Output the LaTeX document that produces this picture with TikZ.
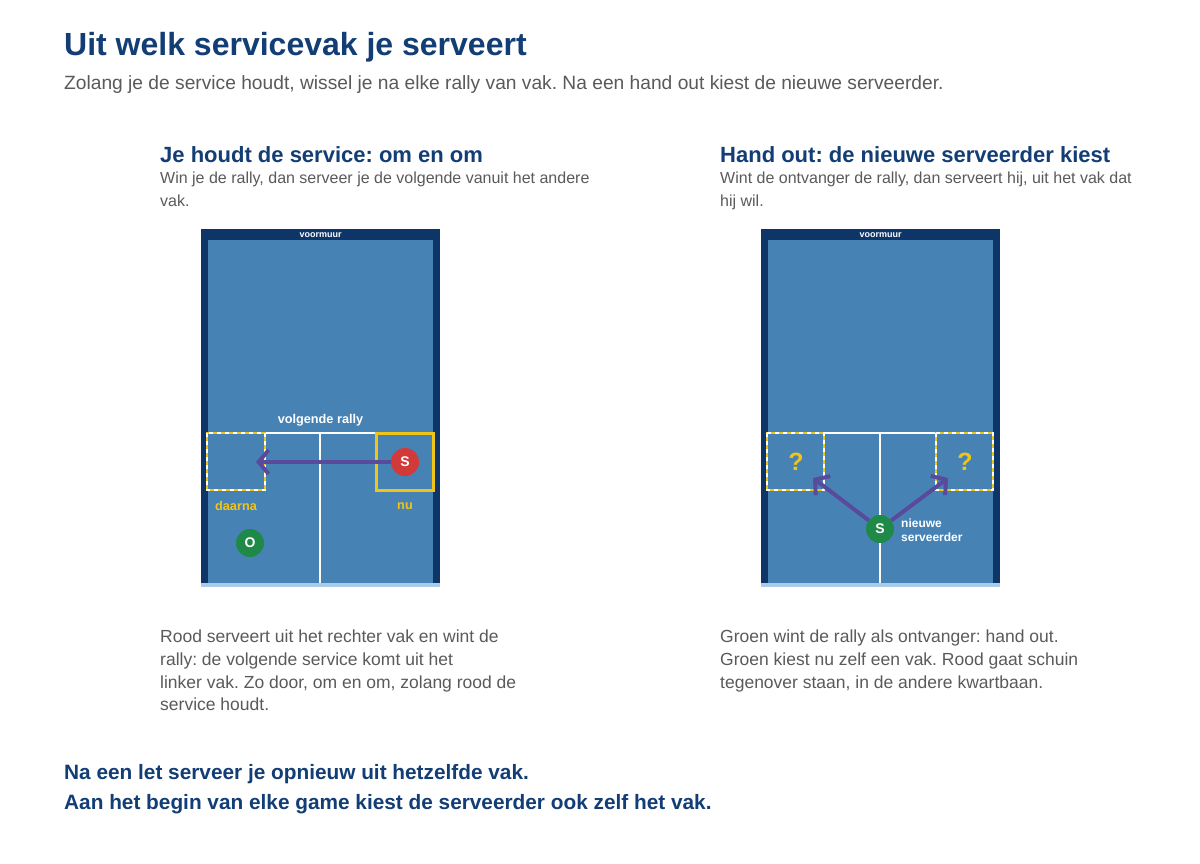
\documentclass[tikz,border=0pt]{standalone}
\usepackage{fontspec}
\setmainfont{Liberation Sans}
\usetikzlibrary{arrows.meta}
\definecolor{navy}{HTML}{0D3567}
\definecolor{court}{HTML}{4682B4}
\definecolor{stripe}{HTML}{A9CCE8}
\definecolor{headblue}{HTML}{123D75}
\definecolor{greytext}{HTML}{5A5A5A}
\definecolor{gold}{HTML}{F0C419}
\definecolor{arrowpurple}{HTML}{5A4A9C}
\definecolor{redball}{HTML}{D23A3A}
\definecolor{greenball}{HTML}{1F8A47}
\tikzset{
  heading/.style={anchor=base west, text=headblue, font=\fontsize{22}{26}\selectfont\bfseries, inner sep=0},
  body/.style={anchor=north west, text=greytext, font=\fontsize{16}{22.7}\selectfont, align=left, inner sep=0},
  ball/.style={circle, minimum size=28pt, inner sep=0, text=white, font=\fontsize{14}{14}\selectfont\bfseries},
  courtlabel/.style={font=\fontsize{12.7}{14}\selectfont\bfseries, inner sep=0},
  move/.style={arrowpurple, line width=4pt, -{Straight Barb[length=10pt,width=24pt]}},
  dashbox/.style={line width=2.5pt, gold, postaction={draw=white, line width=2.5pt, dash pattern=on 4pt off 4pt}}
}
\newcommand{\drawcourt}[1]{%
  \begin{scope}[xshift=#1]
    \fill[navy] (201,229) rectangle (440,583);
    \fill[court] (208,240) rectangle (433,583);
    \fill[stripe] (201,583) rectangle (440,587);
    \node[text=white, font=\fontsize{9}{9}\selectfont\bfseries, inner sep=0] at (320.5,235) {voormuur};
    \draw[white, line width=2pt] (208,433) -- (433,433);
    \draw[white, line width=2pt] (320,433) -- (320,583);
  \end{scope}}
\begin{document}
\frenchspacing
\begin{tikzpicture}[x=1pt,y=-1pt]
  \useasboundingbox[fill=white] (0,0) rectangle (1200,864);

  \node[anchor=base west, text=headblue, font=\fontsize{32}{36}\selectfont\bfseries, inner sep=0] (title) at (64,56) {Uit welk servicevak je serveert};
  \node[anchor=base west, text=greytext, font=\fontsize{19.2}{22}\selectfont, inner sep=0] (subtitle) at (64,90) {Zolang je de service houdt, wissel je na elke rally van vak. Na een hand out kiest de nieuwe serveerder.};

  % linker paneel
  \node[heading] (headL) at (160,163) {Je houdt de service: om en om};
  \node[body] (introL) at (160,172) {Win je de rally, dan serveer je de volgende vanuit het andere\\vak.};
  \drawcourt{0}
  \draw[dashbox] (207,433) rectangle (265,490);
  \draw[gold, line width=3pt] (376,433) rectangle (433,490);
  \node[courtlabel, text=white] (next) at (320.5,420) {volgende rally};
  \node[ball, fill=redball] (server) at (405,462) {S};
  \coordinate (target) at (256,462);
  \draw[move] (server) -- (target);
  \node[courtlabel, text=gold] (after) at (236,506) {daarna};
  \node[courtlabel, text=gold] (now) at (405,506) {nu};
  \node[ball, fill=greenball] (receiver) at (250,543) {O};
  \node[body, font=\fontsize{17.5}{22.7}\selectfont] (textL) at (160,630) {Rood serveert uit het rechter vak en wint de\\rally: de volgende service komt uit het\\linker vak. Zo door, om en om, zolang rood de\\service houdt.};

  % rechter paneel
  \node[heading] (headR) at (720,163) {Hand out: de nieuwe serveerder kiest};
  \node[body] (introR) at (720,172) {Wint de ontvanger de rally, dan serveert hij, uit het vak dat\\hij wil.};
  \drawcourt{560}
  \draw[dashbox] (767,433) rectangle (824,490);
  \draw[dashbox] (936,433) rectangle (993,490);
  \node[text=gold, font=\fontsize{25}{25}\selectfont\bfseries] (askL) at (796,462) {?};
  \node[text=gold, font=\fontsize{25}{25}\selectfont\bfseries] (askR) at (965,462) {?};
  \node[ball, fill=greenball] (newserver) at (880,529) {S};
  \coordinate (boxL) at (813,478);
  \coordinate (boxR) at (948,478);
  \draw[move] (newserver) -- (boxL);
  \draw[move] (newserver) -- (boxR);
  \node[courtlabel, text=white, anchor=west, align=left, font=\fontsize{12}{14.5}\selectfont\bfseries] (newlabel) at (901,530) {nieuwe\\serveerder};
  \node[body, font=\fontsize{17.5}{22.7}\selectfont] (textR) at (720,630) {Groen wint de rally als ontvanger: hand out.\\Groen kiest nu zelf een vak. Rood gaat schuin\\tegenover staan, in de andere kwartbaan.};

  \node[anchor=north west, text=headblue, font=\fontsize{20.8}{30}\selectfont\bfseries, align=left, inner sep=0] (footer) at (64,764) {Na een let serveer je opnieuw uit hetzelfde vak.\\Aan het begin van elke game kiest de serveerder ook zelf het vak.};
\end{tikzpicture}
\end{document}
